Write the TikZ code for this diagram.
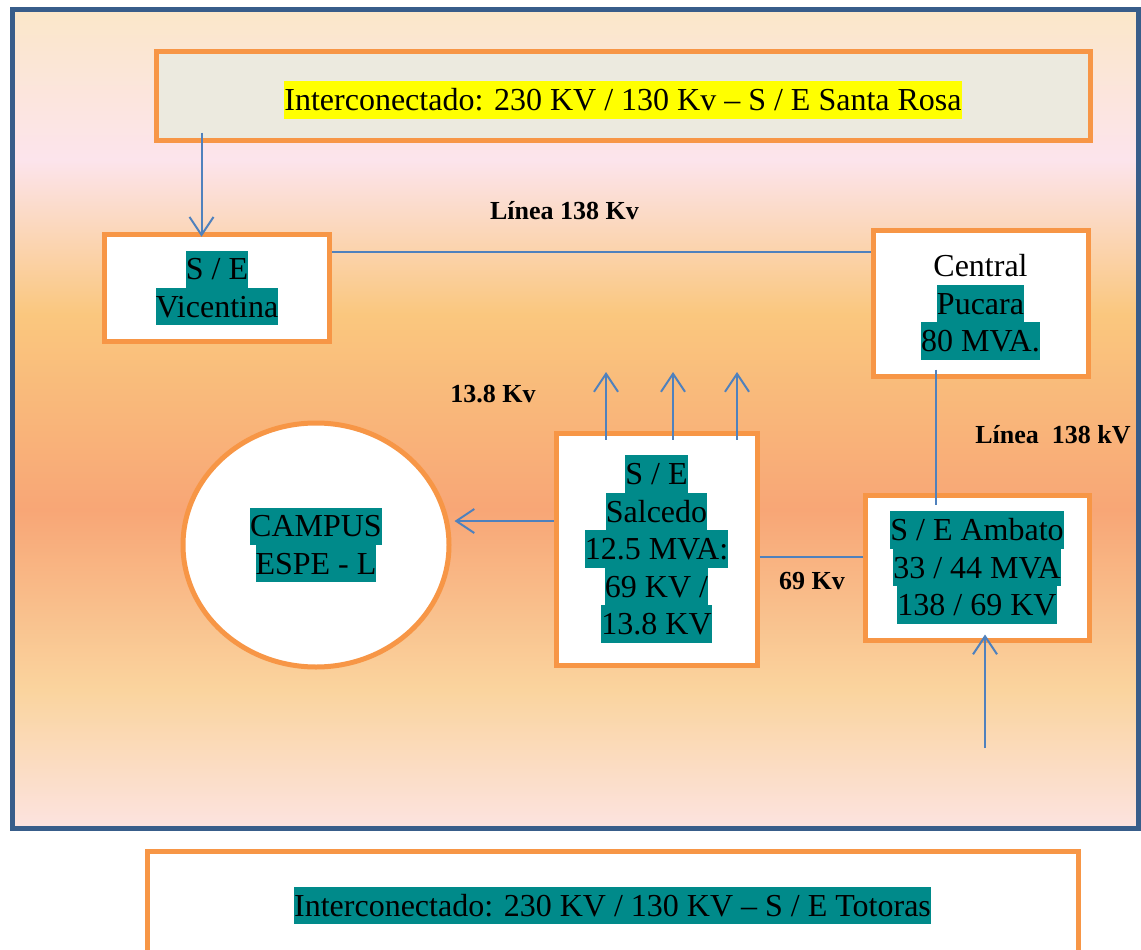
\documentclass[tikz,border=0pt]{standalone}
\usepackage{fontspec}
\setmainfont{Liberation Serif}
\usetikzlibrary{arrows.meta,shapes.geometric}
\definecolor{frameblue}{HTML}{385D8A}
\definecolor{boxorange}{HTML}{F79646}
\definecolor{lineblue}{HTML}{4F81BD}
\definecolor{hteal}{HTML}{008A8A}
\definecolor{hyellow}{HTML}{FFFF00}
\definecolor{topfill}{HTML}{ECEADF}
\definecolor{gA}{HTML}{FBE7C9}
\definecolor{gB}{HTML}{FCE4EC}
\definecolor{gC}{HTML}{FAC77E}
\definecolor{gD}{HTML}{F8A676}
\definecolor{gE}{HTML}{FAD49E}
\definecolor{gF}{HTML}{FCE3E0}
\pgfdeclareverticalshading{sunset}{100bp}{color(0bp)=(gF); color(25bp)=(gF); color(33.44bp)=(gE); color(44.44bp)=(gD); color(56.36bp)=(gC); color(65.83bp)=(gB); color(75bp)=(gA); color(100bp)=(gA)}
\newcommand{\hlbox}[2]{{\setlength{\fboxsep}{0pt}\colorbox{#1}{\rule[-0.25em]{0pt}{1.17em}#2}}}
\newcommand{\mainsz}{\fontsize{32}{37.5}\selectfont}
\newcommand{\lblsz}{\bfseries\fontsize{26}{30}\selectfont}
\tikzset{
  box/.style={draw=boxorange, line width=5pt, fill=white, inner sep=0pt, align=center, font=\mainsz},
  lbl/.style={font=\lblsz, inner sep=0pt, anchor=base},
  conn/.style={draw=lineblue, line width=2pt},
  arr/.style={conn, -{Straight Barb[length=18pt,width=24pt]}}
}
\begin{document}
\begin{tikzpicture}[x=1pt,y=-1pt]
\useasboundingbox (0,0) rectangle (1141,950);
\clip (0,0) rectangle (1141,950);
\fill[white] (0,0) rectangle (1141,950);
\shade[shading=sunset] (12.5,10) rectangle (1138.5,828);
\draw[frameblue, line width=5pt] (12.5,10) rectangle (1138.5,828);

\node[box, fill=topfill, minimum width=934pt, minimum height=88pt] (santarosa) at (623,96)
  {\raisebox{-4pt}[\height][\depth]{\hlbox{hyellow}{Interconectado: 230 KV / 130 Kv – S / E Santa Rosa}}};
\node[box, minimum width=224.5pt, minimum height=107.5pt] (vic) at (217,288)
  {\hlbox{hteal}{S / E}\\\hlbox{hteal}{Vicentina}};
\node[box, minimum width=215pt, minimum height=146pt] (pucara) at (980.5,303)
  {\rule{0pt}{30pt}Central\\\hlbox{hteal}{Pucara}\\\hlbox{hteal}{80 MVA.}};
\node[box, minimum width=201pt, minimum height=232pt] (salcedo) at (656.5,549)
  {\hlbox{hteal}{S / E}\\\hlbox{hteal}{Salcedo}\\\hlbox{hteal}{12.5 MVA:}\\\hlbox{hteal}{69 KV /}\\\hlbox{hteal}{13.8 KV}};
\node[box, minimum width=224pt, minimum height=145pt] (ambato) at (977,567.5)
  {\hlbox{hteal}{S / E Ambato}\\\hlbox{hteal}{33 / 44 MVA}\\\hlbox{hteal}{138 / 69 KV}};
\node[box, ellipse, minimum width=266pt, minimum height=244pt] (campus) at (316,545)
  {\hlbox{hteal}{CAMPUS}\\\hlbox{hteal}{ESPE - L}};
\node[box, minimum width=931pt, minimum height=109pt] (totoras) at (612.5,905.5)
  {\hlbox{hteal}{Interconectado: 230 KV / 130 KV – S / E Totoras}};

\node[lbl] (l1) at (564.5,219) {Línea 138 Kv};
\node[lbl] (l2) at (493,402) {13.8 Kv};
\node[lbl] (l3) at (812,589) {69 Kv};
\node[lbl] (l4) at (1053,443) {Línea\hspace{0.5em}138 kV};

\coordinate (t1) at (606,372);
\coordinate (t2) at (673,372);
\coordinate (t3) at (737,372);
\coordinate (feed) at (985,748);

\draw[arr] ([shift={(48,-10)}]santarosa.south west) -- ([shift={(99.25,5)}]vic.north west);
\draw[conn] ([shift={(0,-36)}]vic.east) -- ([shift={(0,-51)}]pucara.west);
\draw[conn] ([shift={(-44.5,-9)}]pucara.south) -- ([shift={(-41,12)}]ambato.north);
\draw[conn] ([shift={(0,8)}]salcedo.east) -- ([shift={(0,-10.5)}]ambato.west);
\draw[arr] ([shift={(0,-28)}]salcedo.west) -- ([shift={(3,-24)}]campus.east);
\draw[arr] ([shift={(-50.5,9)}]salcedo.north) -- (t1);
\draw[arr] ([shift={(16.5,9)}]salcedo.north) -- (t2);
\draw[arr] ([shift={(80.5,9)}]salcedo.north) -- (t3);
\draw[arr] (feed) -- ([shift={(8,-8)}]ambato.south);
\end{tikzpicture}
\end{document}
